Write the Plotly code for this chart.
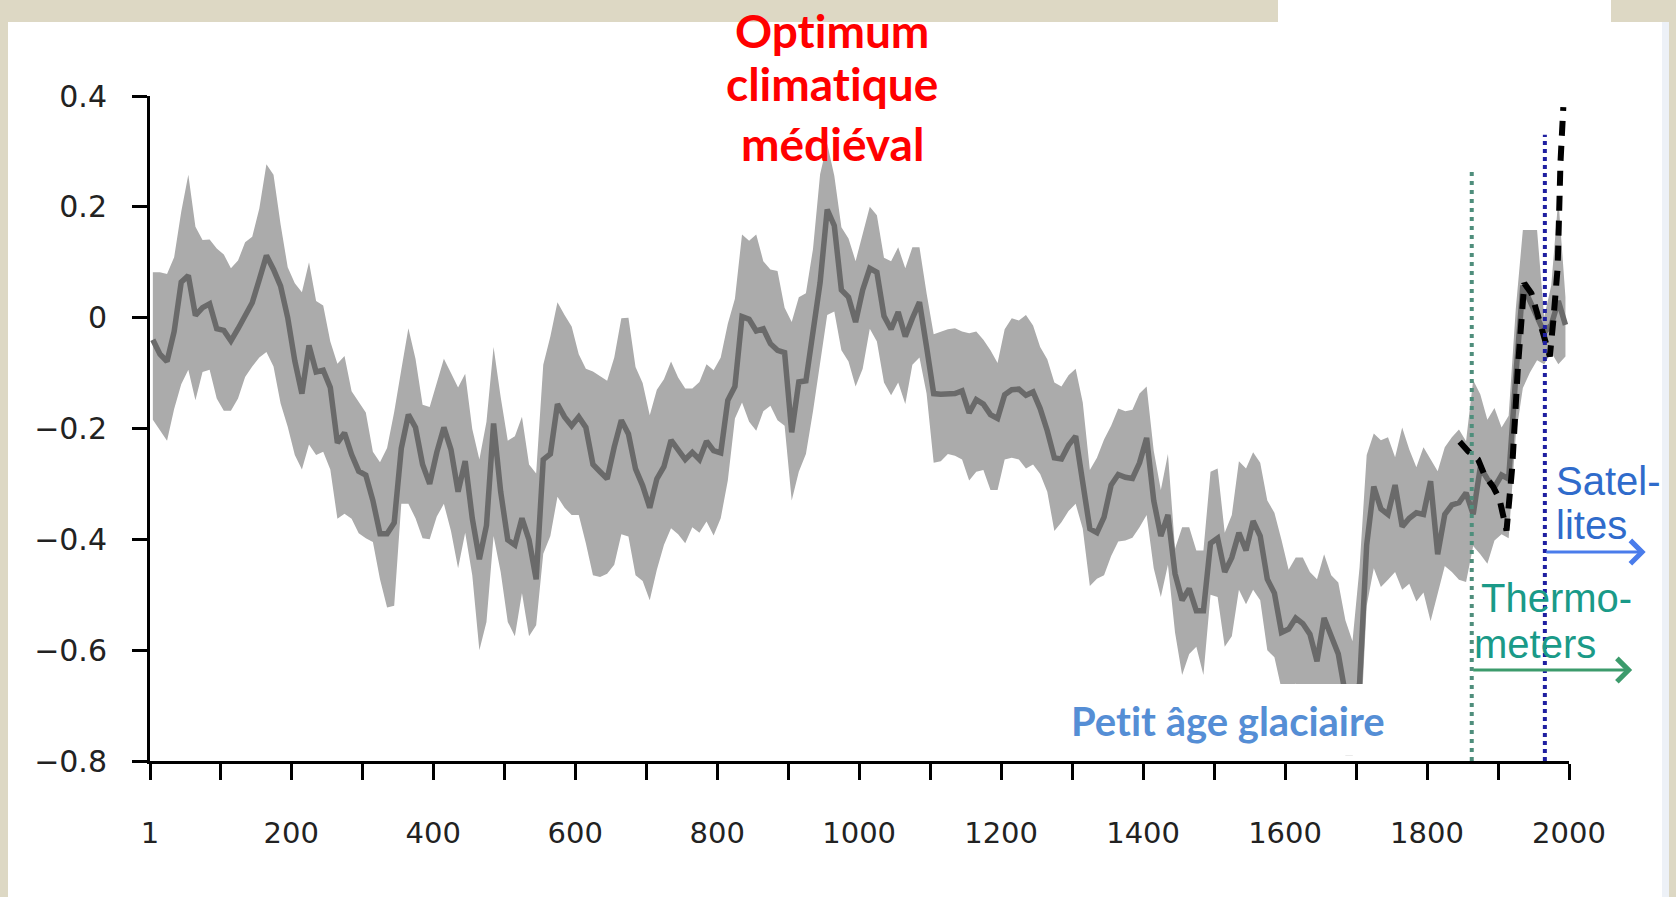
import plotly.graph_objects as go

# ---------------- data (decadal reconstruction, centred on decade mid-years) -------------
years = list(range(5, 2000, 10))

mean_anom = [
    -0.040, -0.066, -0.079, -0.025, 0.064, 0.076, 0.004, 0.018, 0.025, -0.020,
    -0.023, -0.042, -0.020, 0.005, 0.027, 0.069, 0.112, 0.087, 0.057, 0.000,
    -0.078, -0.137, -0.050, -0.098, -0.095, -0.126, -0.226, -0.208, -0.247, -0.277,
    -0.284, -0.330, -0.390, -0.390, -0.370, -0.236, -0.175, -0.198, -0.265, -0.300,
    -0.243, -0.198, -0.238, -0.314, -0.259, -0.362, -0.436, -0.375, -0.191, -0.314,
    -0.401, -0.410, -0.362, -0.401, -0.472, -0.256, -0.246, -0.156, -0.179, -0.195,
    -0.179, -0.198, -0.265, -0.278, -0.291, -0.233, -0.185, -0.210, -0.273, -0.303,
    -0.343, -0.291, -0.269, -0.221, -0.240, -0.256, -0.243, -0.256, -0.223, -0.240,
    -0.244, -0.149, -0.124, 0.002, -0.003, -0.024, -0.020, -0.047, -0.059, -0.063,
    -0.207, -0.116, -0.114, -0.027, 0.063, 0.195, 0.166, 0.050, 0.037, -0.008,
    0.050, 0.089, 0.082, 0.003, -0.021, 0.010, -0.034, -0.001, 0.028, -0.053,
    -0.137, -0.138, -0.137, -0.137, -0.132, -0.172, -0.148, -0.156, -0.175, -0.182,
    -0.139, -0.130, -0.129, -0.140, -0.134, -0.164, -0.204, -0.253, -0.255, -0.230,
    -0.214, -0.298, -0.381, -0.388, -0.360, -0.302, -0.283, -0.288, -0.290, -0.262,
    -0.217, -0.330, -0.394, -0.356, -0.462, -0.510, -0.489, -0.529, -0.529, -0.407,
    -0.398, -0.459, -0.433, -0.388, -0.420, -0.367, -0.394, -0.472, -0.497, -0.568,
    -0.562, -0.542, -0.552, -0.571, -0.620, -0.542, -0.575, -0.607, -0.680, -0.700,
    -0.660, -0.410, -0.305, -0.345, -0.355, -0.302, -0.377, -0.362, -0.352, -0.355,
    -0.295, -0.427, -0.355, -0.338, -0.334, -0.316, -0.355, -0.270, -0.291, -0.306,
    -0.284, -0.291, -0.106, 0.058, 0.030, 0.001, -0.027, -0.013, 0.030, -0.013,
]

upper_2sd = [
    0.082, 0.082, 0.079, 0.109, 0.191, 0.258, 0.164, 0.140, 0.141, 0.125,
    0.114, 0.089, 0.103, 0.136, 0.146, 0.197, 0.277, 0.258, 0.168, 0.091,
    0.062, 0.046, 0.100, 0.030, 0.022, -0.043, -0.083, -0.069, -0.133, -0.152,
    -0.171, -0.242, -0.261, -0.235, -0.170, -0.094, -0.019, -0.074, -0.157, -0.161,
    -0.117, -0.074, -0.100, -0.126, -0.101, -0.201, -0.256, -0.188, -0.053, -0.143,
    -0.222, -0.214, -0.179, -0.265, -0.281, -0.085, -0.034, 0.028, 0.005, -0.016,
    -0.066, -0.092, -0.097, -0.105, -0.114, -0.072, -0.001, 0.000, -0.089, -0.118,
    -0.176, -0.130, -0.111, -0.079, -0.108, -0.128, -0.128, -0.116, -0.084, -0.095,
    -0.072, -0.011, 0.034, 0.150, 0.139, 0.150, 0.102, 0.087, 0.084, 0.018,
    -0.008, 0.037, 0.044, 0.124, 0.259, 0.314, 0.256, 0.163, 0.143, 0.102,
    0.153, 0.200, 0.185, 0.108, 0.102, 0.127, 0.089, 0.127, 0.127, 0.044,
    -0.030, -0.025, -0.021, -0.019, -0.025, -0.028, -0.025, -0.040, -0.059, -0.082,
    -0.021, -0.001, -0.005, 0.005, -0.014, -0.053, -0.075, -0.117, -0.124, -0.104,
    -0.092, -0.153, -0.275, -0.253, -0.220, -0.195, -0.164, -0.169, -0.166, -0.137,
    -0.124, -0.240, -0.311, -0.246, -0.417, -0.378, -0.378, -0.420, -0.420, -0.278,
    -0.272, -0.388, -0.356, -0.259, -0.272, -0.243, -0.262, -0.330, -0.352, -0.401,
    -0.455, -0.433, -0.433, -0.459, -0.472, -0.427, -0.465, -0.478, -0.546, -0.584,
    -0.450, -0.248, -0.209, -0.221, -0.216, -0.252, -0.198, -0.238, -0.270, -0.234,
    -0.256, -0.277, -0.234, -0.216, -0.202, -0.223, -0.113, -0.138, -0.184, -0.163,
    -0.198, -0.177, 0.015, 0.158, 0.158, 0.158, 0.001, 0.058, 0.215, 0.037,
]

lower_2sd = [
    -0.184, -0.203, -0.222, -0.165, -0.120, -0.094, -0.149, -0.098, -0.094, -0.146,
    -0.168, -0.168, -0.146, -0.107, -0.088, -0.072, -0.062, -0.088, -0.155, -0.197,
    -0.248, -0.274, -0.229, -0.248, -0.242, -0.274, -0.363, -0.354, -0.363, -0.389,
    -0.398, -0.405, -0.472, -0.523, -0.520, -0.336, -0.336, -0.362, -0.398, -0.400,
    -0.359, -0.336, -0.385, -0.452, -0.388, -0.465, -0.600, -0.549, -0.394, -0.459,
    -0.549, -0.575, -0.497, -0.575, -0.555, -0.426, -0.394, -0.323, -0.343, -0.356,
    -0.356, -0.407, -0.465, -0.468, -0.462, -0.446, -0.391, -0.395, -0.465, -0.475,
    -0.510, -0.455, -0.410, -0.380, -0.391, -0.407, -0.378, -0.388, -0.368, -0.393,
    -0.362, -0.294, -0.182, -0.153, -0.188, -0.204, -0.169, -0.159, -0.185, -0.195,
    -0.330, -0.278, -0.246, -0.169, -0.079, 0.005, 0.011, -0.059, -0.079, -0.124,
    -0.092, -0.020, -0.043, -0.117, -0.140, -0.117, -0.156, -0.085, -0.072, -0.137,
    -0.262, -0.259, -0.246, -0.249, -0.256, -0.294, -0.278, -0.275, -0.311, -0.311,
    -0.256, -0.253, -0.256, -0.272, -0.265, -0.282, -0.314, -0.385, -0.369, -0.349,
    -0.336, -0.381, -0.484, -0.471, -0.465, -0.430, -0.404, -0.402, -0.397, -0.378,
    -0.356, -0.452, -0.504, -0.446, -0.568, -0.645, -0.607, -0.594, -0.645, -0.500,
    -0.504, -0.594, -0.575, -0.491, -0.517, -0.491, -0.510, -0.600, -0.613, -0.670,
    -0.680, -0.660, -0.680, -0.700, -0.740, -0.680, -0.700, -0.740, -0.790, -0.790,
    -0.780, -0.520, -0.452, -0.486, -0.473, -0.459, -0.491, -0.480, -0.512, -0.496,
    -0.548, -0.498, -0.448, -0.459, -0.473, -0.477, -0.412, -0.427, -0.444, -0.402,
    -0.391, -0.398, -0.213, -0.127, -0.099, -0.077, -0.084, -0.063, -0.084, -0.070,
]

# instrumental record (dashed)
instr_years = [1846, 1858, 1872, 1881, 1893, 1902, 1912, 1920, 1928, 1937,
               1947, 1957, 1966, 1973, 1978, 1984, 1988, 1992]
instr_anom = [-0.224, -0.241, -0.256, -0.284, -0.305, -0.327, -0.384, -0.270, -0.090, 0.062,
              0.044, 0.000, -0.030, -0.070, -0.004, 0.090, 0.280, 0.380]

thermo_start = 1863
satellite_start = 1966

x_tickvals = [1, 100, 200, 300, 400, 500, 600, 700, 800, 900, 1000,
              1100, 1200, 1300, 1400, 1500, 1600, 1700, 1800, 1900, 2000]
x_ticktext = ["1", "", "200", "", "400", "", "600", "", "800", "", "1000",
              "", "1200", "", "1400", "", "1600", "", "1800", "", "2000"]
y_tickvals = [-0.8, -0.6, -0.4, -0.2, 0.0, 0.2, 0.4]
y_ticktext = ["\u22120.8", "\u22120.6", "\u22120.4", "\u22120.2", "0", "0.2", "0.4"]

ZWNJ = "\u200c"  # keeps "t"+"i" from merging into a ligature
title_lines = [f"Opt{ZWNJ}imum", f"climat{ZWNJ}ique", "médiéval"]
lia_text = f"Pet{ZWNJ}it âge glaciaire"

# ---------------- figure -------------
W, H = 1676, 897
ML, MR, MT, MB = 150, 107, 96, 136
PW, PH = W - ML - MR, H - MT - MB


def pxx(px):
    return (px - ML) / PW


def pxy(py):
    return (H - MB - py) / PH


BEIGE = "#DDD8C4"

fig = go.Figure()

fig.add_trace(go.Scatter(x=years, y=upper_2sd, mode="lines", line=dict(width=0, color="#ABABAB"),
                         showlegend=False, hoverinfo="skip"))
fig.add_trace(go.Scatter(x=years, y=lower_2sd, mode="lines", line=dict(width=0, color="#ABABAB"),
                         fill="tonexty", fillcolor="#ABABAB", showlegend=False, hoverinfo="skip"))
fig.add_trace(go.Scatter(x=years, y=mean_anom, mode="lines", line=dict(width=5.5, color="#6A6A6A"),
                         showlegend=False))
fig.add_trace(go.Scatter(x=instr_years, y=instr_anom, mode="lines",
                         line=dict(width=6, color="black", dash="15px,10px"), showlegend=False))
fig.add_trace(go.Scatter(x=[thermo_start, thermo_start], y=[-0.8, 0.272], mode="lines",
                         line=dict(width=4, color="#4F8E7C", dash="4px,5px"), showlegend=False))
fig.add_trace(go.Scatter(x=[satellite_start, satellite_start], y=[-0.8, 0.33], mode="lines",
                         line=dict(width=4, color="#1F1FA0", dash="4px,4px"), showlegend=False))

shapes = [
    dict(type="rect", xref="paper", yref="paper", x0=pxx(0), x1=pxx(1278), y0=pxy(22), y1=pxy(0),
         fillcolor=BEIGE, line=dict(width=0), layer="below"),
    dict(type="rect", xref="paper", yref="paper", x0=pxx(1611), x1=pxx(W), y0=pxy(22), y1=pxy(0),
         fillcolor=BEIGE, line=dict(width=0), layer="below"),
    dict(type="rect", xref="paper", yref="paper", x0=pxx(0), x1=pxx(8), y0=pxy(H), y1=pxy(0),
         fillcolor=BEIGE, line=dict(width=0), layer="below"),
    dict(type="rect", xref="paper", yref="paper", x0=pxx(1662), x1=pxx(1669), y0=pxy(H), y1=pxy(22),
         fillcolor="#EDF1F7", line=dict(width=0), layer="below"),
    dict(type="rect", xref="paper", yref="paper", x0=pxx(1669), x1=pxx(W), y0=pxy(H), y1=pxy(0),
         fillcolor=BEIGE, line=dict(width=0), layer="below"),
    # white box behind "Petit âge glaciaire"
    dict(type="rect", xref="x", yref="y", x0=1200, x1=1844, y0=-0.79, y1=-0.661,
         fillcolor="white", line=dict(width=0), layer="above"),
]

title_font = dict(family="Lato", size=46, color="#FF0000", weight="bold")
annotations = [
    dict(x=pxx(832), y=pxy(py), xref="paper", yref="paper", text=t, showarrow=False,
         xanchor="center", yanchor="middle", font=title_font)
    for t, py in zip(title_lines, [30, 84, 143])
]
annotations += [
    dict(x=1520, y=-0.728, xref="x", yref="y", text=lia_text, showarrow=False,
         xanchor="center", yanchor="middle",
         font=dict(family="Lato", size=40, color="#558ED5", weight="bold")),
    dict(x=1979, y=-0.294, xref="x", yref="y", text="Satel-", showarrow=False,
         xanchor="left", yanchor="middle",
         font=dict(family="Liberation Sans", size=40, color="#2F6BCB")),
    dict(x=1979, y=-0.375, xref="x", yref="y", text="lites", showarrow=False,
         xanchor="left", yanchor="middle",
         font=dict(family="Liberation Sans", size=40, color="#2F6BCB")),
    dict(x=1873, y=-0.505, xref="x", yref="y", text="Thermo-", showarrow=False,
         xanchor="left", yanchor="middle",
         font=dict(family="Liberation Sans", size=40, color="#1A9A88")),
    dict(x=1864, y=-0.588, xref="x", yref="y", text="meters", showarrow=False,
         xanchor="left", yanchor="middle",
         font=dict(family="Liberation Sans", size=40, color="#1A9A88")),
    dict(x=2108, y=-0.423, xref="x", yref="y", ax=satellite_start, ay=-0.423, axref="x", ayref="y",
         text="", showarrow=True, arrowhead=4, arrowsize=1.5, arrowwidth=3, arrowcolor="#4A7CEB",
         standoff=0, startstandoff=0),
    dict(x=2089, y=-0.636, xref="x", yref="y", ax=thermo_start, ay=-0.636, axref="x", ayref="y",
         text="", showarrow=True, arrowhead=4, arrowsize=1.5, arrowwidth=3, arrowcolor="#3C9B6C",
         standoff=0, startstandoff=0),
]

fig.update_layout(
    width=W, height=H,
    margin=dict(l=ML, r=MR, t=MT, b=MB, pad=0),
    paper_bgcolor="white", plot_bgcolor="white",
    shapes=shapes, annotations=annotations,
    showlegend=False,
    xaxis=dict(range=[1, 2000], showgrid=False, zeroline=False, showline=True, linecolor="black",
               linewidth=3, ticks="outside", ticklen=16, tickwidth=3, tickcolor="black",
               tickvals=x_tickvals, ticktext=x_ticktext, ticklabelstandoff=28,
               tickfont=dict(family="DejaVu Sans", size=29, color="#222222")),
    yaxis=dict(range=[-0.8, 0.4], showgrid=False, zeroline=False, showline=True, linecolor="black",
               linewidth=3, ticks="outside", ticklen=15, tickwidth=3, tickcolor="black",
               tickvals=y_tickvals, ticktext=y_ticktext, ticklabelstandoff=19,
               tickfont=dict(family="DejaVu Sans", size=30, color="#222222")),
)

fig.write_html("out.html", config={"displayModeBar": False},
               post_script="document.body.style.margin='0';document.body.style.overflow='hidden';")
